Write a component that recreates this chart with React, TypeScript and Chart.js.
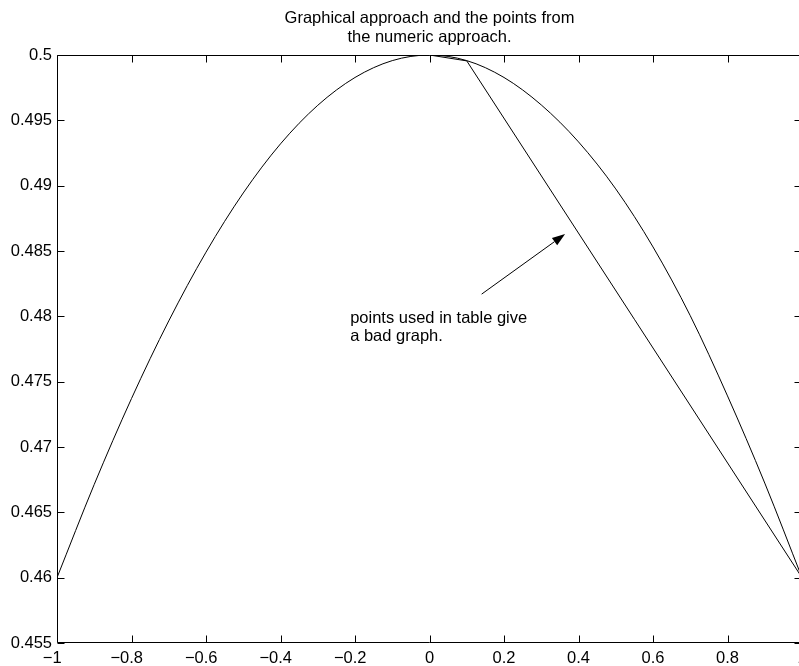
import React, { useEffect, useRef } from "react";
import { Chart, registerables } from "chart.js";

Chart.register(...registerables);

// ---- data ----
const curveX = [-1, -0.9, -0.8, -0.7, -0.6, -0.5, -0.4, -0.3, -0.2, -0.1, 0, 0.1, 0.2, 0.3, 0.4, 0.5, 0.6, 0.7, 0.8, 0.9, 1];
const curveY = [0.46, 0.46714, 0.47371, 0.47965, 0.48491, 0.48944, 0.4932, 0.49615, 0.49828, 0.49957, 0.5, 0.49957, 0.49828, 0.49618, 0.49335, 0.48975, 0.48531, 0.48005, 0.47391, 0.46724, 0.46];
const tableX = [0, 0.1, 1];
const tableY = [0.5, 0.49955, 0.46];

const xMin = -1;
const xMax = 1;
const xStep = 0.2;
const yMin = 0.455;
const yMax = 0.5;
const yStep = 0.005;

const titleLines = ["Graphical approach and the points from", "the numeric approach."];
const noteLines = ["points used in table give", "a bad graph."];
const notePos = { x: -0.213, y: 0.4795 };
const arrowFrom = { x: 0.14, y: 0.4817 };
const arrowTo = { x: 0.364, y: 0.4863 };

const FONT = "'Liberation Sans', Arial, Helvetica, sans-serif";
const FONT_SIZE = 16.5;
const CANVAS_W = 840;
const CANVAS_H = 666;

const fmtX = (v: number) => String(Math.round(Math.abs(v) * 10) / 10);

const framePlugin = {
  id: "matlabFrame",
  afterDraw(chart: any) {
    const { ctx, chartArea: a, scales } = chart;
    const xs = scales.x;
    const ys = scales.y;
    ctx.save();
    ctx.strokeStyle = "#000";
    ctx.fillStyle = "#000";
    ctx.lineWidth = 1;
    const L = Math.round(a.left) + 0.5;
    const R = Math.round(a.right) - 0.5;
    const T = Math.round(a.top) + 0.5;
    const B = Math.round(a.bottom) - 0.5;
    ctx.beginPath();
    ctx.rect(L, T, R - L, B - T);
    ctx.stroke();
    const tl = 7;
    ctx.beginPath();
    xs.ticks.forEach((t: any) => {
      const p = Math.round(xs.getPixelForValue(t.value)) + 0.5;
      ctx.moveTo(p, B);
      ctx.lineTo(p, B - tl);
      ctx.moveTo(p, T);
      ctx.lineTo(p, T + tl);
    });
    ys.ticks.forEach((t: any) => {
      const p = Math.round(ys.getPixelForValue(t.value)) + 0.5;
      ctx.moveTo(L, p);
      ctx.lineTo(L + tl, p);
      ctx.moveTo(R, p);
      ctx.lineTo(R - tl, p);
    });
    ctx.stroke();

    // x tick labels (minus sign hangs to the left of the number)
    ctx.font = `${FONT_SIZE}px ${FONT}`;
    ctx.textBaseline = "alphabetic";
    xs.ticks.forEach((t: any) => {
      const p = xs.getPixelForValue(t.value);
      const s = fmtX(t.value);
      const w = ctx.measureText(s).width;
      ctx.textAlign = "center";
      ctx.fillText(s, p, 663);
      if (t.value < -1e-9) {
        ctx.textAlign = "right";
        ctx.fillText("\u2212", p - w / 2, 663);
      }
    });

    // title
    const cx = (a.left + a.right) / 2;
    ctx.textAlign = "center";
    ctx.fillText(titleLines[0], cx, 23);
    ctx.fillText(titleLines[1], cx, 42);

    // annotation
    ctx.textAlign = "left";
    const nx = xs.getPixelForValue(notePos.x);
    const ny = ys.getPixelForValue(notePos.y);
    noteLines.forEach((s, i) => ctx.fillText(s, nx, ny + i * 18.5));

    const x0 = xs.getPixelForValue(arrowFrom.x);
    const y0 = ys.getPixelForValue(arrowFrom.y);
    const x1 = xs.getPixelForValue(arrowTo.x);
    const y1 = ys.getPixelForValue(arrowTo.y);
    const ang = Math.atan2(y1 - y0, x1 - x0);
    const hl = 13;
    const hw = 4.5;
    const bx = x1 - hl * Math.cos(ang);
    const by = y1 - hl * Math.sin(ang);
    ctx.beginPath();
    ctx.moveTo(x0, y0);
    ctx.lineTo(bx, by);
    ctx.stroke();
    ctx.beginPath();
    ctx.moveTo(x1, y1);
    ctx.lineTo(bx + hw * Math.sin(ang), by - hw * Math.cos(ang));
    ctx.lineTo(bx - hw * Math.sin(ang), by + hw * Math.cos(ang));
    ctx.closePath();
    ctx.fill();
    ctx.restore();
  },
};

export default function App() {
  const ref = useRef<HTMLCanvasElement | null>(null);
  useEffect(() => {
    if (!ref.current) return;
    const chart = new Chart(ref.current, {
      type: "line",
      data: {
        datasets: [
          {
            data: curveX.map((x, i) => ({ x, y: curveY[i] })),
            borderColor: "#000",
            borderWidth: 1,
            pointRadius: 0,
            cubicInterpolationMode: "monotone",
            fill: false,
          },
          {
            data: tableX.map((x, i) => ({ x, y: tableY[i] })),
            borderColor: "#000",
            borderWidth: 1,
            pointRadius: 0,
            tension: 0,
            fill: false,
          },
        ],
      },
      options: {
        responsive: false,
        animation: false,
        events: [],
        layout: { padding: { top: 55, left: 0, right: CANVAS_W - 802, bottom: 0 } },
        plugins: { legend: { display: false }, tooltip: { enabled: false }, title: { display: false } },
        scales: {
          x: {
            type: "linear",
            min: xMin,
            max: xMax,
            ticks: { stepSize: xStep, display: false },
            grid: { display: false },
            border: { display: false },
            afterFit: (s: any) => {
              s.height = CANVAS_H - 643;
            },
          },
          y: {
            type: "linear",
            min: yMin,
            max: yMax,
            ticks: {
              stepSize: yStep,
              color: "#000",
              padding: 5,
              font: { family: FONT, size: FONT_SIZE },
              callback: (v: any) => String(+Number(v).toFixed(3)),
            },
            grid: { display: false, drawTicks: false },
            border: { display: false },
            afterFit: (s: any) => {
              s.width = 57;
            },
          },
        },
      },
      plugins: [framePlugin],
    });
    return () => chart.destroy();
  }, []);
  return (
    <div style={{ position: "fixed", left: 0, top: 0, width: CANVAS_W, height: CANVAS_H, background: "#fff" }}>
      <canvas ref={ref} width={CANVAS_W} height={CANVAS_H} style={{ display: "block", width: CANVAS_W, height: CANVAS_H }} />
    </div>
  );
}
